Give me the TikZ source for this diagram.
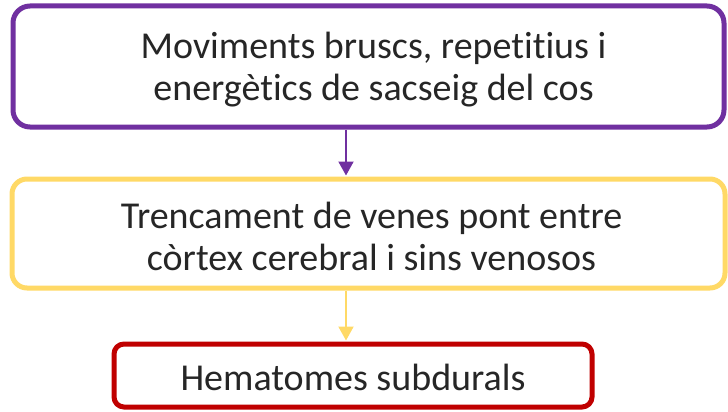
\documentclass[tikz,border=0pt]{standalone}
\usepackage{fontspec}
\setmainfont{Carlito}[Ligatures=NoCommon]
\usetikzlibrary{arrows.meta}
\definecolor{purp}{HTML}{7030A0}
\definecolor{gold}{HTML}{FFD966}
\definecolor{darkred}{HTML}{C00000}
\definecolor{txt}{HTML}{262626}
\begin{document}
\begin{tikzpicture}[x=1pt,y=1pt]
\tikzset{box/.style = {shape=rectangle,draw,fill=white,line width=5pt,inner sep=0pt}}
\tikzset{lbl/.style = {align=center,text=txt,inner sep=0pt,font=\fontsize{38}{42}\selectfont}}
\tikzset{flow/.style = {-{Triangle[width=15pt,length=14pt]},line width=2pt}}
\useasboundingbox (0,0) rectangle (728,-412);
\node[box,draw=purp,rounded corners=17pt,minimum width=711pt,minimum height=121pt] (a) at (368.5,-66.5) {};
\node[box,draw=gold,rounded corners=15pt,minimum width=713pt,minimum height=109pt] (b) at (368.5,-233.5) {};
\node[box,draw=darkred,rounded corners=10pt,minimum width=478pt,minimum height=63pt] (c) at (353,-375.5) {};
\node[lbl] (at) at ([shift={(5,-3)}]a.center) {Moviments bruscs, repetitius i\\energètics de sacseig del cos};
\node[lbl] (bt) at ([shift={(3,-3)}]b.center) {Trencament de venes pont entre\\còrtex cerebral i sins venosos};
\node[lbl] (ct) at ([yshift=-2pt]c.center) {Hematomes subdurals};
\coordinate (x) at (346,0);
\draw[flow,purp] (a.south -| x) to ([yshift=1pt]b.north -| x);
\draw[flow,gold] (b.south -| x) to ([yshift=1pt]c.north -| x);
\end{tikzpicture}
\end{document}
